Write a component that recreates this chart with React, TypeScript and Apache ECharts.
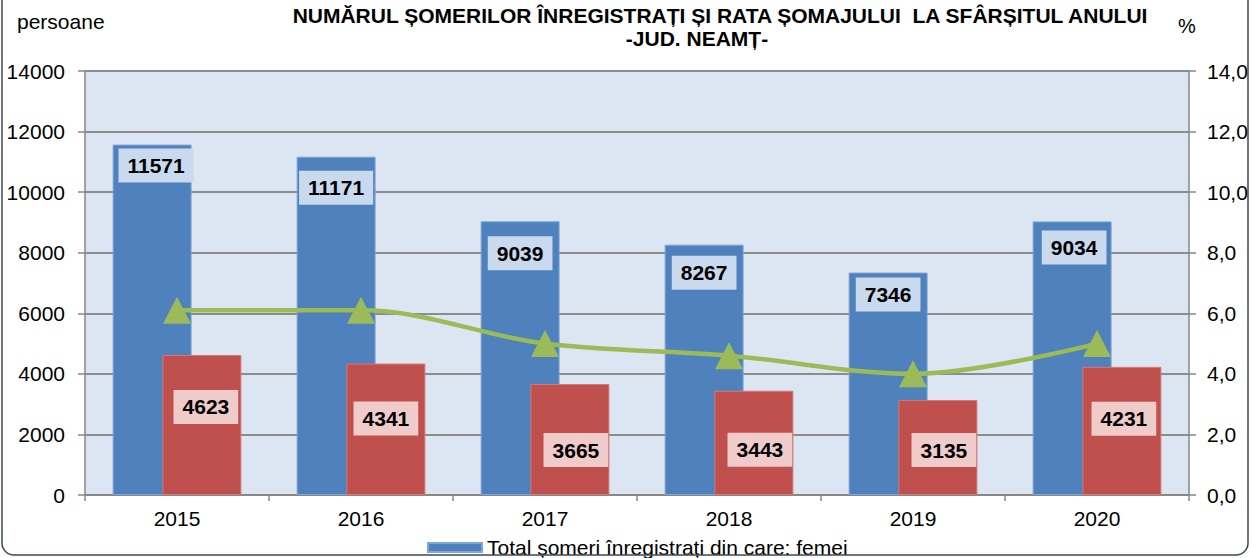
import React, { useEffect, useRef } from "react";
import * as echarts from "echarts";

const years = ["2015", "2016", "2017", "2018", "2019", "2020"];
const totalSomeri = [11571, 11171, 9039, 8267, 7346, 9034];
const femei = [4623, 4341, 3665, 3443, 3135, 4231];
const rataSomaj = [6.1, 6.1, 5.0, 4.6, 4.0, 5.0];

// label placement (centre of each label box measured from bar top, and x shift)
const totalLabelDy = [21, 31, 32, 28, 22, 26];
const totalLabelDx = [4, 0, 0, 0, 0, 2];
const femeiLabelDy = [52, 55, 66, 59, 50, 52];
const femeiLabelDx = [4, 0, 6, 6, 6, 2];

const FONT = "'Liberation Sans', Arial, sans-serif";
const FS = 21;
const BOX_H = 34;

export default function App() {
  const ref = useRef<HTMLDivElement>(null);
  useEffect(() => {
    if (!ref.current) return;
    const chart = echarts.init(ref.current, null, { renderer: "svg" });
    const blueName = "Total șomeri înregistrați din care: femei";
    const labelBase = {
      show: true,
      position: "insideTop",
      distance: 0,
      fontSize: FS,
      fontWeight: "bold",
      color: "#000",
      fontFamily: FONT,
      lineHeight: 24,
      padding: [5, 9],
    };
    const option: any = {
      animation: false,
      backgroundColor: "#ffffff",
      textStyle: { fontFamily: FONT },
      graphic: [
        {
          type: "rect",
          shape: { x: 2, y: -12, width: 1246, height: 567, r: 12 },
          style: { fill: "none", stroke: "#3e4856", lineWidth: 1.5 },
          silent: true,
          z: 100,
        },
        {
          type: "text",
          x: 720,
          y: 15,
          style: {
            text: "NUMĂRUL ȘOMERILOR ÎNREGISTRAȚI ȘI RATA ȘOMAJULUI  LA SFÂRȘITUL ANULUI",
            font: `bold 21px ${FONT}`,
            fill: "#000",
            align: "center",
            verticalAlign: "middle",
          },
        },
        {
          type: "text",
          x: 697,
          y: 38,
          style: {
            text: "-JUD. NEAMȚ-",
            font: `bold 21px ${FONT}`,
            fill: "#000",
            align: "center",
            verticalAlign: "middle",
          },
        },
        {
          type: "text",
          x: 17,
          y: 21,
          style: {
            text: "persoane",
            font: `21px ${FONT}`,
            fill: "#000",
            align: "left",
            verticalAlign: "middle",
          },
        },
        {
          type: "text",
          x: 1178,
          y: 26,
          style: {
            text: "%",
            font: `20px ${FONT}`,
            fill: "#000",
            align: "left",
            verticalAlign: "middle",
          },
        },
      ],
      grid: {
        left: 85,
        right: 62,
        top: 71,
        bottom: 63,
        show: true,
        backgroundColor: "#dce6f2",
        borderWidth: 0,
      },
      legend: {
        data: [blueName],
        left: 422,
        top: 532,
        itemWidth: 54,
        itemHeight: 9,
        itemGap: 10,
        icon: "rect",
        textStyle: { fontSize: FS, color: "#000", fontFamily: FONT },
      },
      xAxis: {
        type: "category",
        data: years,
        axisLine: { show: true, lineStyle: { color: "#868686", width: 1.5 } },
        axisTick: { show: true, length: 6, lineStyle: { color: "#868686", width: 1.5 } },
        axisLabel: { fontSize: FS, color: "#000", margin: 13, fontFamily: FONT },
      },
      yAxis: [
        {
          type: "value",
          min: 0,
          max: 14000,
          interval: 2000,
          axisLine: { show: true, lineStyle: { color: "#868686", width: 1.5 } },
          axisTick: { show: true, length: 7, lineStyle: { color: "#868686", width: 1.5 } },
          axisLabel: {
            fontSize: FS,
            color: "#000",
            margin: 20,
            fontFamily: FONT,
            formatter: (v: number) => String(v),
          },
          splitLine: { show: true, lineStyle: { color: "#8c8c8c", width: 2 } },
        },
        {
          type: "value",
          min: 0,
          max: 14,
          interval: 2,
          axisLine: { show: true, lineStyle: { color: "#868686", width: 1.5 } },
          axisTick: { show: true, length: 7, lineStyle: { color: "#868686", width: 1.5 } },
          axisLabel: {
            fontSize: FS,
            color: "#000",
            margin: 18,
            fontFamily: FONT,
            formatter: (v: number) => v.toFixed(1).replace(".", ","),
          },
          splitLine: { show: false },
        },
      ],
      series: [
        {
          name: blueName,
          type: "bar",
          barWidth: 79,
          barGap: "-37%",
          itemStyle: { color: "#4f81bd", borderColor: "#7ea6d8", borderWidth: 1 },
          data: totalSomeri.map((v, i) => ({
            value: v,
            label: { offset: [totalLabelDx[i], totalLabelDy[i] - BOX_H / 2] },
          })),
          label: { ...labelBase, backgroundColor: "#c9d9ee" },
          z: 2,
        },
        {
          name: "femei",
          type: "bar",
          barWidth: 79,
          barGap: "-37%",
          itemStyle: { color: "#c0504d", borderColor: "#d37a77", borderWidth: 1 },
          data: femei.map((v, i) => ({
            value: v,
            label: { offset: [femeiLabelDx[i], femeiLabelDy[i] - BOX_H / 2] },
          })),
          label: { ...labelBase, backgroundColor: "#efcbca" },
          z: 3,
        },
        {
          name: "Rata șomajului (%)",
          type: "line",
          yAxisIndex: 1,
          data: rataSomaj,
          smooth: 0.35,
          symbol: "triangle",
          symbolSize: [28, 27],
          lineStyle: { color: "#9bbb59", width: 4.5 },
          itemStyle: { color: "#9bbb59" },
          z: 5,
        },
      ],
    };
    chart.setOption(option);
    return () => chart.dispose();
  }, []);
  return (
    <div
      ref={ref}
      style={{ position: "absolute", left: 0, top: 0, width: 1251, height: 558 }}
    />
  );
}
